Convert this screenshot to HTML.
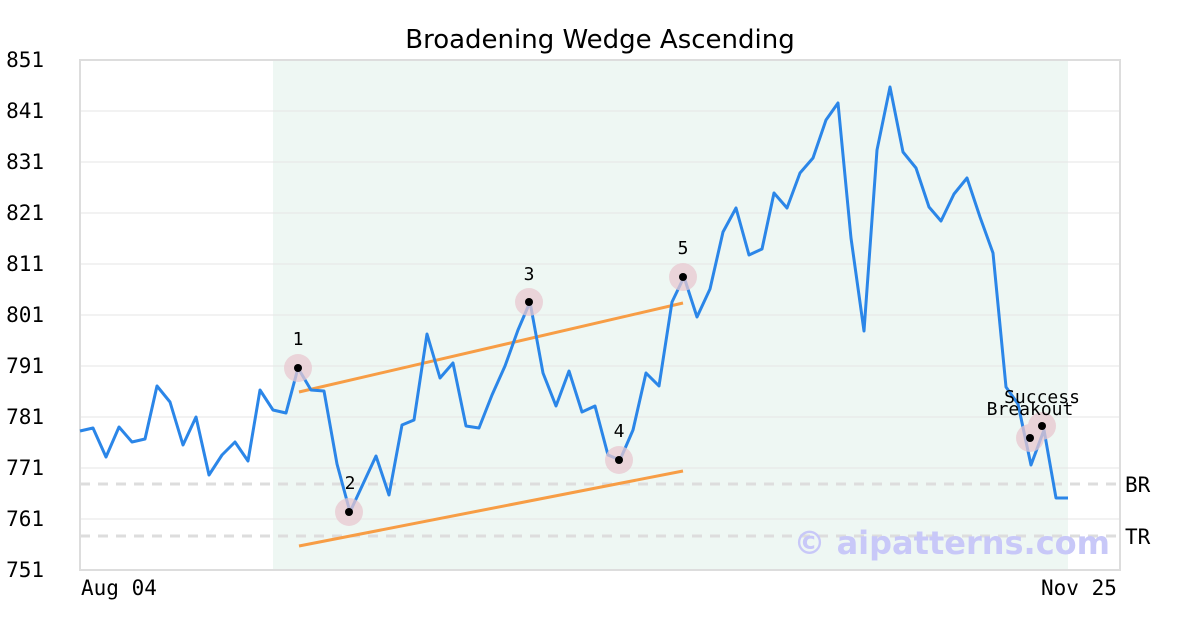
<!DOCTYPE html>
<html><head><meta charset="utf-8"><style>body{margin:0;background:#fff}</style></head><body>
<svg width="1200" height="630" xmlns="http://www.w3.org/2000/svg" font-family="DejaVu Sans Mono, Liberation Mono, monospace">
<rect width="1200" height="630" fill="#fff"/>
<rect x="273" y="60" width="795" height="510" fill="#eef7f3"/>
<g stroke="#e6e6e6" stroke-width="1">
<line x1="80" x2="1120" y1="111" y2="111"/><line x1="80" x2="1120" y1="162" y2="162"/><line x1="80" x2="1120" y1="213" y2="213"/><line x1="80" x2="1120" y1="264" y2="264"/><line x1="80" x2="1120" y1="315" y2="315"/><line x1="80" x2="1120" y1="366" y2="366"/><line x1="80" x2="1120" y1="417" y2="417"/><line x1="80" x2="1120" y1="468" y2="468"/><line x1="80" x2="1120" y1="519" y2="519"/>
</g>
<g stroke="#dddddd" stroke-width="3" stroke-dasharray="10,8"><line x1="80" x2="1120" y1="484" y2="484"/><line x1="80" x2="1120" y1="536" y2="536"/></g>
<rect x="80" y="60" width="1040" height="510" fill="none" stroke="#dddddd" stroke-width="2"/>
<text x="600" y="48" text-anchor="middle" font-family="DejaVu Sans, sans-serif" font-size="26" fill="#000">Broadening Wedge Ascending</text>
<g font-size="21" fill="#000" text-anchor="end">
<text x="44" y="67">851</text><text x="44" y="118">841</text><text x="44" y="169">831</text><text x="44" y="220">821</text><text x="44" y="271">811</text><text x="44" y="322">801</text><text x="44" y="373">791</text><text x="44" y="424">781</text><text x="44" y="475">771</text><text x="44" y="526">761</text><text x="44" y="577">751</text>
</g>
<g font-size="21" fill="#000"><text x="81" y="595">Aug 04</text><text x="1041" y="595">Nov 25</text><text x="1125" y="492">BR</text><text x="1125" y="544">TR</text></g>
<text x="1110" y="554" text-anchor="end" font-family="DejaVu Sans, sans-serif" font-weight="bold" font-size="32" fill="#c8c8f8">© aipatterns.com</text>
<g stroke="#f79d45" stroke-width="3"><line x1="299" y1="392" x2="683" y2="303"/><line x1="299" y1="546" x2="683" y2="471"/></g>
<polyline fill="none" stroke="#2b86e8" stroke-width="3" stroke-linejoin="round" points="80,431 93,428 106,457 119,427 132,442 145,439 157,386 170,402 183,445 196,417 209,475 222,455 235,442 248,461 260,390 273,410 286,413 298,368 311,390 324,391 337,464 350,512 363,484 376,456 389,495 402,425 414,420 427,334 440,378 453,363 466,426 479,428 492,395 505,366 518,330 530,302 543,373 556,406 569,371 582,412 595,406 608,455 620,460 633,430 646,373 659,386 672,302 684,277 697,317 710,289 723,232 736,208 749,255 762,249 774,193 787,208 800,173 813,158 826,120 838,103 851,238 864,331 877,150 890,87 903,152 916,168 929,207 941,221 954,194 967,178 980,217 993,253 1006,387 1018,404 1031,465 1044,430 1056,498 1068,498"/>
<g fill="#e8c8d0" opacity="0.75"><circle cx="298" cy="368" r="14"/><circle cx="349" cy="512" r="14"/><circle cx="529" cy="302" r="14"/><circle cx="619" cy="460" r="14"/><circle cx="683" cy="277" r="14"/><circle cx="1030" cy="438" r="14"/><circle cx="1042" cy="426" r="14"/></g>
<g fill="#000"><circle cx="298" cy="368" r="4"/><circle cx="349" cy="512" r="4"/><circle cx="529" cy="302" r="4"/><circle cx="619" cy="460" r="4"/><circle cx="683" cy="277" r="4"/><circle cx="1030" cy="438" r="4"/><circle cx="1042" cy="426" r="4"/></g>
<g font-size="18" fill="#000" text-anchor="middle"><text x="298" y="345">1</text><text x="350" y="489">2</text><text x="529" y="280">3</text><text x="619" y="437">4</text><text x="683" y="254">5</text><text x="1030" y="415">Breakout</text><text x="1042" y="403">Success</text></g>
</svg>
</body></html>
